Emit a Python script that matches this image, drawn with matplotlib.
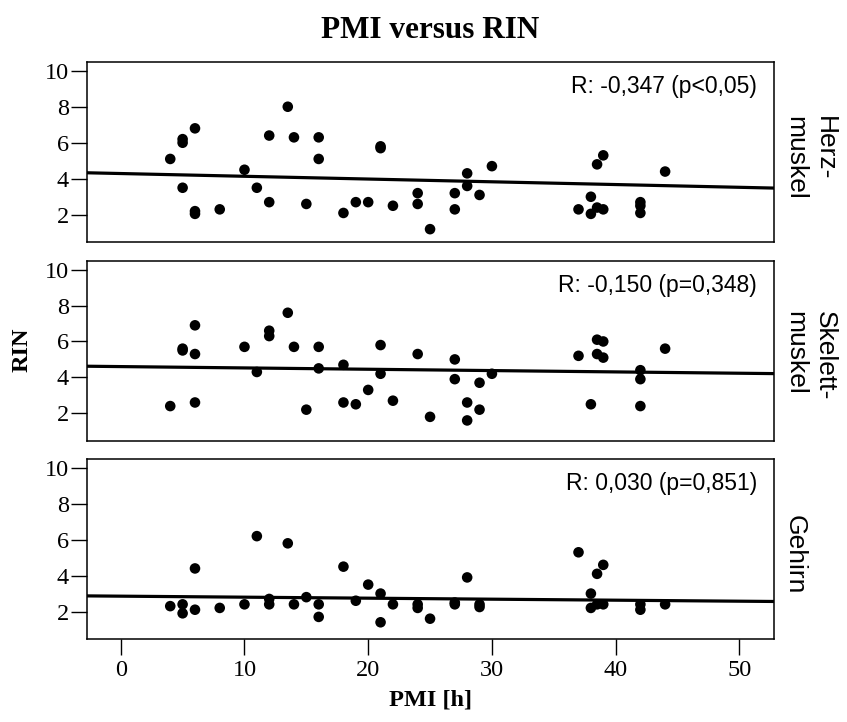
import numpy as np
import matplotlib
matplotlib.use("Agg")
import matplotlib.pyplot as plt

# ---------- data ----------
TITLE = "PMI versus RIN"
PANELS = ["Herz-\nmuskel", "Skelett-\nmuskel", "Gehirn"]
STATS = ["R: -0,347 (p<0,05)", "R: -0,150 (p=0,348)", "R: 0,030 (p=0,851)"]

herz_pmi = [4, 5, 5, 5, 6, 6, 6, 8, 10, 11, 12, 12, 13.5, 14, 15, 16, 16, 18, 19, 20,
            21, 21, 22, 24, 24, 25, 27, 27, 28, 28, 29, 30, 37, 38, 38, 38.5, 38.5,
            39, 39, 42, 42, 42, 44]
herz_rin = [5.1, 6.2, 6.0, 3.5, 6.8, 2.2, 2.05, 2.3, 4.5, 3.5, 6.4, 2.7, 8.0, 6.3, 2.6, 6.3, 5.1, 2.1, 2.7, 2.7,
            5.8, 5.7, 2.5, 3.2, 2.6, 1.2, 3.2, 2.3, 4.3, 3.6, 3.1, 4.7, 2.3, 3.0, 2.05, 4.8, 2.4,
            5.3, 2.3, 2.7, 2.5, 2.1, 4.4]

skel_pmi = [4, 5, 5, 6, 6, 6, 10, 11, 12, 12, 13.5, 14, 15, 16, 16, 18, 18, 19, 20, 21,
            21, 22, 24, 25, 27, 27, 28, 28, 29, 29, 30, 37, 38, 38.5, 38.5, 39, 39,
            42, 42, 42, 44]
skel_rin = [2.4, 5.6, 5.5, 6.9, 5.3, 2.6, 5.7, 4.3, 6.6, 6.3, 7.6, 5.7, 2.2, 5.7, 4.5, 4.7, 2.6, 2.5, 3.3, 5.8,
            4.2, 2.7, 5.3, 1.8, 5.0, 3.9, 2.6, 1.6, 3.7, 2.2, 4.2, 5.2, 2.5, 6.1, 5.3, 6.0, 5.1,
            4.4, 3.9, 2.4, 5.6]

hirn_pmi = [4, 5, 5, 6, 6, 8, 10, 11, 12, 12, 13.5, 14, 15, 16, 16, 18, 19, 20, 21, 21,
            22, 24, 24, 25, 27, 27, 28, 29, 29, 37, 38, 38, 38.5, 38.5, 39, 39, 42, 42, 44]
hirn_rin = [2.3, 2.4, 1.9, 4.4, 2.1, 2.2, 2.4, 6.2, 2.7, 2.4, 5.8, 2.4, 2.8, 2.4, 1.7, 4.5, 2.6, 3.5, 3.0, 1.4,
            2.4, 2.4, 2.2, 1.6, 2.5, 2.4, 3.9, 2.4, 2.25, 5.3, 3.0, 2.2, 4.1, 2.4, 4.6, 2.4, 2.4, 2.1, 2.4]

# fitted line (intercept, slope) as drawn in the reference
fit_lines = [(4.29, -0.0153), (4.60, -0.0074), (2.855, -0.0056)]

pmi_sets = [herz_pmi, skel_pmi, hirn_pmi]
rin_sets = [herz_rin, skel_rin, hirn_rin]

XLIM = (-2.75, 52.8)
YLIM = (0.47, 10.5)

# ---------- figure ----------
fig = plt.figure(figsize=(8.47, 7.22), dpi=100)
left, right = 0.1024, 0.9138
panel_box = [(0.6644, 0.9145), (0.3896, 0.6389), (0.115, 0.3643)]

serif = "Liberation Serif"
sans = "Liberation Sans"

for i, (bot, top) in enumerate(panel_box):
    ax = fig.add_axes([left, bot, right - left, top - bot])
    ax.scatter(pmi_sets[i], rin_sets[i], s=58, color="black", edgecolor="none", zorder=3)
    b0, b1 = fit_lines[i]
    xs = np.array(XLIM)
    ax.plot(xs, b0 + b1 * xs, color="black", lw=2.3, zorder=2)
    ax.set_xlim(*XLIM)
    ax.set_ylim(*YLIM)
    ax.set_yticks([2, 4, 6, 8, 10])
    for sp in ax.spines.values():
        sp.set_linewidth(1.1)
        sp.set_color("black")
    ax.tick_params(axis="y", direction="out", length=11.5, width=1.0, pad=1.5,
                   labelsize=17.5)
    for lab in ax.get_yticklabels():
        lab.set_fontfamily(serif)
    if i < 2:
        ax.tick_params(axis="x", bottom=False, labelbottom=False)
    else:
        ax.set_xticks([0, 10, 20, 30, 40, 50])
        ax.tick_params(axis="x", direction="out", length=11.5, width=1.0, pad=4,
                       labelsize=17.5)
        for lab in ax.get_xticklabels():
            lab.set_fontfamily(serif)
    ax.text(0.975, 0.865, STATS[i], transform=ax.transAxes, ha="right", va="center",
            fontsize=16.5, family=sans)
    ax.text(1.013, 0.47, PANELS[i], transform=ax.transAxes, ha="left", va="center",
            rotation=-90, fontsize=19, family=sans, linespacing=1.3)

xc = (left + right) / 2
fig.text(xc, 0.958, TITLE, ha="center", va="center", fontsize=22.5, fontweight="bold", family=serif)
fig.text(xc, 0.030, "PMI [h]", ha="center", va="center", fontsize=17.5, fontweight="bold", family=serif)
fig.text(0.026, 0.515, "RIN", ha="center", va="center", rotation=90, fontsize=17.5,
         fontweight="bold", family=serif)

fig.savefig("out.png", dpi=100)
